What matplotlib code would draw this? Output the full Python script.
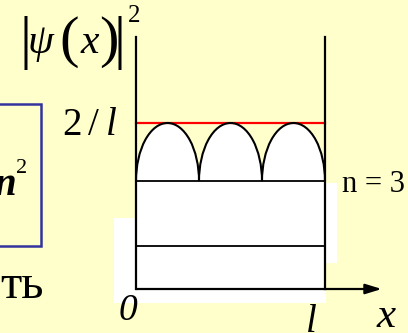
import matplotlib.pyplot as plt
from matplotlib.patches import Rectangle, Ellipse, Arc

# well and levels, in units of l (x) and of 1/l (y)
well_width = 1.0
wall_height = 3.04
level_heights = [0.52, 1.30]
n_state = 3
density_max = 2.0          # 2 / l
axis_end = 1.30

bg = '#ffffcc'
serif = 'Liberation Serif'

W, H = 408, 333
fig = plt.figure(figsize=(W / 100, H / 100), dpi=100, facecolor=bg)

ax = fig.add_axes([0, 0, 1, 1])
ax.set_facecolor('none')
ax.set_xlim(-136 / 189, 272 / 189)
ax.set_ylim(-44 / 83, 289 / 83)
ax.axis('off')


def fx(x):
    return x / W


def fy(y):
    return 1 - y / H


def white_box(x0, y0, x1, y1):
    ax.add_patch(Rectangle((fx(x0), fy(y1)), (x1 - x0) / W, (y1 - y0) / H,
                           transform=fig.transFigure, facecolor='white',
                           edgecolor='none', zorder=0))


# white pieces of the slide behind the drawing
white_box(114, 218, 326, 303)
white_box(325, 183, 337, 263)

# inside of the well under the n = 3 level
ax.add_patch(Rectangle((0, 0), well_width, level_heights[-1], facecolor='white',
                       edgecolor='none', zorder=1))

# |psi|^2 humps on the n = 3 level
base = level_heights[-1]
hump_w = well_width / n_state
hump_h = density_max - base
for k in range(n_state):
    cx = (k + 0.5) * hump_w
    ax.add_patch(Ellipse((cx, base), hump_w, 2 * hump_h, facecolor='white',
                         edgecolor='none', zorder=1))
    ax.add_patch(Arc((cx, base), hump_w, 2 * hump_h, theta1=0, theta2=180,
                     color='black', lw=1.5, zorder=3))

ax.plot([0, well_width], [density_max, density_max], color='red', lw=1.6, zorder=2)
for h in level_heights:
    ax.plot([0, well_width], [h, h], color='black', lw=1.3, zorder=3)
ax.plot([0, 0], [0, wall_height], color='black', lw=1.6, zorder=4)
ax.plot([well_width, well_width], [0, wall_height], color='black', lw=1.6, zorder=4)
ax.annotate('', xy=(axis_end, 0), xytext=(0, 0),
            arrowprops=dict(arrowstyle='-|>,head_length=0.65,head_width=0.2',
                            mutation_scale=15, lw=1.6, color='black',
                            shrinkA=0, shrinkB=0), zorder=4)

# blue formula box on the left (cut by the edge)
ax.add_patch(Rectangle((fx(-20), fy(246)), (41 + 20) / W, (246 - 104) / H,
                       transform=fig.transFigure, facecolor='none',
                       edgecolor='#3333a0', lw=1.8, zorder=1))


def label(x, y, s, size, ha='center', style='normal', weight='normal'):
    fig.text(fx(x), fy(y), s, fontsize=size, ha=ha, va='baseline',
             family=serif, style=style, weight=weight, zorder=5)


label(16, 195, 'n', 28, ha='right', style='italic', weight='bold')
label(22, 173, '2', 16)
label(0, 298, 'ть', 35, ha='left')

# |psi(x)|^2
label(25, 57, '|', 43)
label(40, 53, 'ψ', 30, style='italic')
label(69, 56, '(', 42)
label(90, 53, 'x', 30, style='italic')
label(109, 56, ')', 42)
label(119, 57, '|', 43)
label(134, 22, '2', 18)

label(72, 135, '2', 28)
label(93, 135, '/', 28)
label(111, 135, 'l', 28, style='italic')
label(342, 192, 'n = 3', 22, ha='left')
label(128, 320, '0', 27, style='italic')
label(311, 332, 'l', 28, style='italic')
label(386, 327, 'x', 31, style='italic')

fig.savefig('out.png', dpi=100, facecolor=bg)
